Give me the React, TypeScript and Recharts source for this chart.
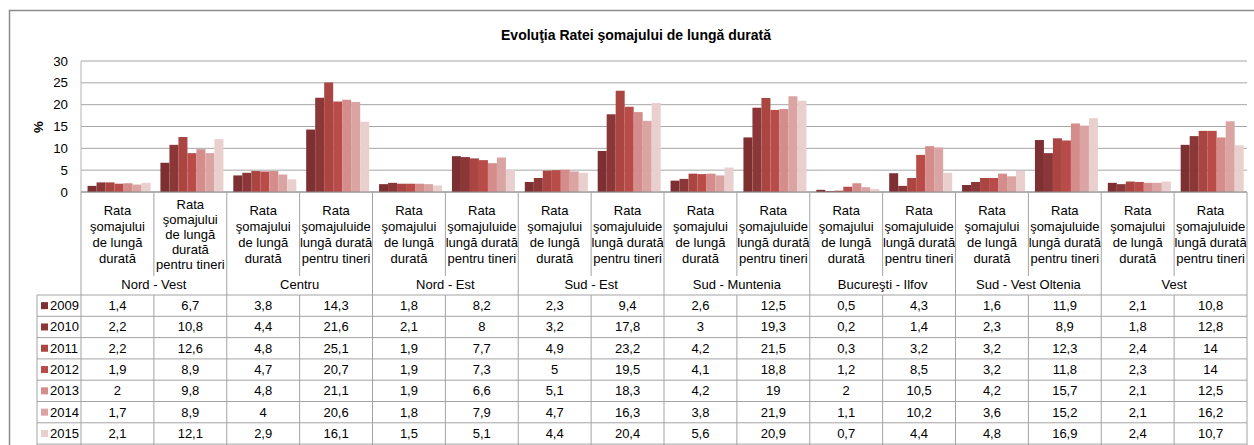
import React from 'react';
import { BarChart, Bar, XAxis, YAxis, CartesianGrid } from 'recharts';

// ---------- data ----------
const years = ['2009', '2010', '2011', '2012', '2013', '2014', '2015'];
const regions = [
  'Nord - Vest',
  'Centru',
  'Nord - Est',
  'Sud - Est',
  'Sud - Muntenia',
  'Bucureşti - Ilfov',
  'Sud - Vest Oltenia',
  'Vest',
];
const labelTotal = ['Rata', 'şomajului', 'de lungă', 'durată'];
const labelYouthNV = ['Rata', 'şomajului', 'de lungă', 'durată', 'pentru tineri'];
const labelYouth = ['Rata', 'şomajuluide', 'lungă durată', 'pentru tineri'];

const v2009 = [1.4, 6.7, 3.8, 14.3, 1.8, 8.2, 2.3, 9.4, 2.6, 12.5, 0.5, 4.3, 1.6, 11.9, 2.1, 10.8];
const v2010 = [2.2, 10.8, 4.4, 21.6, 2.1, 8, 3.2, 17.8, 3, 19.3, 0.2, 1.4, 2.3, 8.9, 1.8, 12.8];
const v2011 = [2.2, 12.6, 4.8, 25.1, 1.9, 7.7, 4.9, 23.2, 4.2, 21.5, 0.3, 3.2, 3.2, 12.3, 2.4, 14];
const v2012 = [1.9, 8.9, 4.7, 20.7, 1.9, 7.3, 5, 19.5, 4.1, 18.8, 1.2, 8.5, 3.2, 11.8, 2.3, 14];
const v2013 = [2, 9.8, 4.8, 21.1, 1.9, 6.6, 5.1, 18.3, 4.2, 19, 2, 10.5, 4.2, 15.7, 2.1, 12.5];
const v2014 = [1.7, 8.9, 4, 20.6, 1.8, 7.9, 4.7, 16.3, 3.8, 21.9, 1.1, 10.2, 3.6, 15.2, 2.1, 16.2];
const v2015 = [2.1, 12.1, 2.9, 16.1, 1.5, 5.1, 4.4, 20.4, 5.6, 20.9, 0.7, 4.4, 4.8, 16.9, 2.4, 10.7];

const yTicks = [0, 5, 10, 15, 20, 25, 30];
const title = 'Evoluţia Ratei şomajului de lungă durată';
const yLabel = '%';

const seriesValues = [v2009, v2010, v2011, v2012, v2013, v2014, v2015];
const colors = ['#7e2f31', '#8c3737', '#aa4541', '#b94c49', '#d48d8b', '#daa4a3', '#e9cfce'];

const data = regions.flatMap((r, ri) =>
  [0, 1].map((k) => {
    const i = ri * 2 + k;
    const row: any = {
      name: `${r}|${k}`,
      region: r,
      lines: k === 0 ? labelTotal : ri === 0 ? labelYouthNV : labelYouth,
    };
    years.forEach((y, yi) => {
      row['y' + y] = seriesValues[yi][i];
    });
    return row;
  })
);

// ---------- layout ----------
const W = 1254;
const H = 445;
const PLOT_L = 81;
const PLOT_R = 1247;
const PLOT_T = 61;
const PLOT_B = 192;
const CAT_W = (PLOT_R - PLOT_L) / data.length;
const TABLE_TOP = 295;
const ROW_H = 21.3;
const TABLE_L = 37;
const FONT = '"Liberation Sans", Arial, sans-serif';
const LINE = '#a3a3a3';
const TXT = '#000';

const fmt = (v: number) => String(v).replace('.', ',');

const CatTick = (props: any) => {
  const { x, index } = props;
  const row = data[index];
  if (!row) return null;
  const xl = x - CAT_W / 2;
  const xr = x + CAT_W / 2;
  const lines: string[] = row.lines;
  const lh = lines.length === 5 ? 15 : 16;
  const center = 234;
  const start = center - ((lines.length - 1) * lh) / 2;
  const isRegionStart = index % 2 === 0;
  const els: any[] = [];
  lines.forEach((t, li) => {
    els.push(
      <text key={'l' + li} x={x} y={start + li * lh + 4.5} textAnchor="middle" fontSize={13} fontFamily={FONT} fill={TXT}>
        {t}
      </text>
    );
  });
  if (isRegionStart) {
    els.push(<line key="vl" x1={xl} x2={xl} y1={PLOT_B} y2={H} stroke={LINE} strokeWidth={1} />);
    els.push(
      <text key="rg" x={xr} y={289} textAnchor="middle" fontSize={13} fontFamily={FONT} fill={TXT}>
        {row.region}
      </text>
    );
  } else {
    els.push(<line key="vl1" x1={xl} x2={xl} y1={PLOT_B} y2={276} stroke={LINE} strokeWidth={1} />);
    els.push(<line key="vl2" x1={xl} x2={xl} y1={TABLE_TOP} y2={H} stroke={LINE} strokeWidth={1} />);
  }
  if (index === data.length - 1) {
    els.push(<line key="vr" x1={xr} x2={xr} y1={PLOT_B} y2={H} stroke={LINE} strokeWidth={1} />);
  }
  for (let r = 0; r <= years.length; r++) {
    const yy = TABLE_TOP + r * ROW_H;
    els.push(<line key={'h' + r} x1={xl} x2={xr} y1={yy} y2={yy} stroke={LINE} strokeWidth={1} />);
  }
  years.forEach((y, yi) => {
    els.push(
      <text key={'v' + yi} x={x} y={TABLE_TOP + yi * ROW_H + ROW_H / 2 + 4.5} textAnchor="middle" fontSize={13} fontFamily={FONT} fill={TXT}>
        {fmt(row['y' + y])}
      </text>
    );
  });
  return <g>{els}</g>;
};

const YTick = (props: any) => {
  const { y, payload } = props;
  return (
    <text x={PLOT_L - 13} y={y + 4.5} textAnchor="end" fontSize={13.3} fontFamily={FONT} fill={TXT}>
      {payload.value}
    </text>
  );
};

export default function App() {
  return (
    <div style={{ position: 'absolute', left: 0, top: 0, width: W, height: H, background: '#fff', overflow: 'hidden' }}>
      <BarChart
        width={W}
        height={H}
        data={data}
        margin={{ top: PLOT_T, right: W - PLOT_R, bottom: 0, left: PLOT_L - 40 }}
        barGap={0}
        barCategoryGap="9%"
      >
        <CartesianGrid vertical={false} stroke="#a6a6a6" strokeWidth={1} />
        <XAxis
          dataKey="name"
          height={H - PLOT_B}
          interval={0}
          tickLine={false}
          axisLine={{ stroke: '#8c8c8c' }}
          tick={(p: any) => <CatTick {...p} />}
        />
        <YAxis
          width={40}
          domain={[0, 30]}
          ticks={yTicks}
          interval={0}
          tickLine={false}
          axisLine={{ stroke: '#b5b5b5' }}
          tick={(p: any) => <YTick {...p} />}
        />
        {years.map((y, i) => (
          <Bar key={y} dataKey={'y' + y} fill={colors[i]} isAnimationActive={false} />
        ))}
      </BarChart>
      <svg width={W} height={H} style={{ position: 'absolute', left: 0, top: 0, pointerEvents: 'none' }}>
        <rect x={9.5} y={10.5} width={1300} height={600} fill="none" stroke="#8c8c8c" strokeWidth={1.5} />
        <text x={636} y={40} textAnchor="middle" fontSize={14} fontWeight="bold" fontFamily={FONT} fill={TXT}>
          {title}
        </text>
        <text
          x={38}
          y={127}
          transform="rotate(-90 38 127)"
          textAnchor="middle"
          dominantBaseline="central"
          fontSize={13.3}
          fontWeight="bold"
          fontFamily={FONT}
          fill={TXT}
        >
          {yLabel}
        </text>
        <line x1={TABLE_L} x2={TABLE_L} y1={TABLE_TOP} y2={H} stroke={LINE} strokeWidth={1} />
        {years.map((y, i) => {
          const top = TABLE_TOP + i * ROW_H;
          return (
            <g key={y}>
              <line x1={TABLE_L} x2={PLOT_L} y1={top} y2={top} stroke={LINE} strokeWidth={1} />
              <rect x={41} y={top + ROW_H / 2 - 3.5} width={7} height={7} fill={colors[i]} />
              <text x={50} y={top + ROW_H / 2 + 4.5} fontSize={13} fontFamily={FONT} fill={TXT}>
                {y}
              </text>
            </g>
          );
        })}
        <line x1={TABLE_L} x2={PLOT_L} y1={TABLE_TOP + 7 * ROW_H} y2={TABLE_TOP + 7 * ROW_H} stroke={LINE} strokeWidth={1} />
      </svg>
    </div>
  );
}
